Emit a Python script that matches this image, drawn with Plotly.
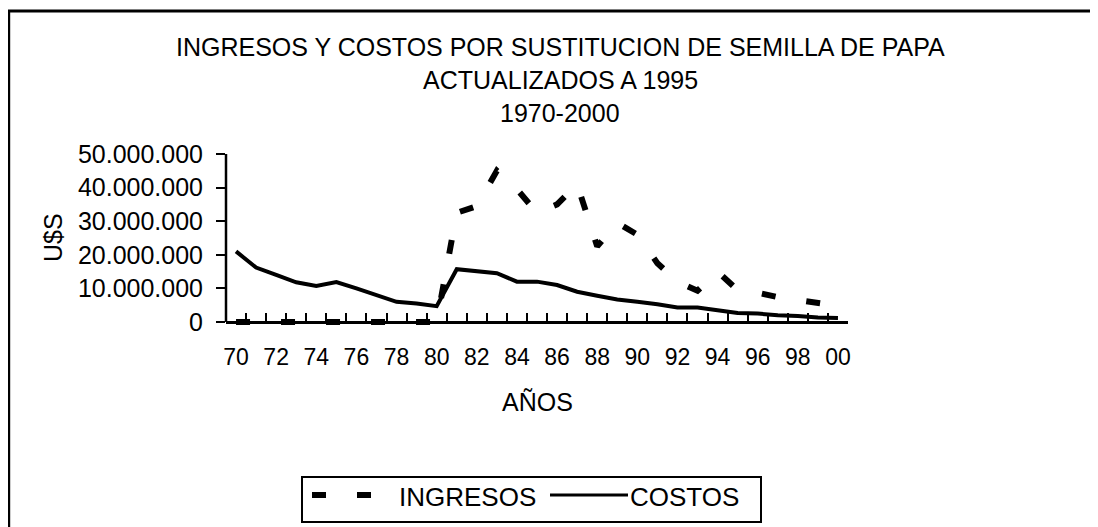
import plotly.graph_objects as go

years = ["70", "71", "72", "73", "74", "75", "76", "77", "78", "79", "80",
         "81", "82", "83", "84", "85", "86", "87", "88", "89", "90",
         "91", "92", "93", "94", "95", "96", "97", "98", "99", "00"]
tick_text = ["70", "", "72", "", "74", "", "76", "", "78", "", "80",
             "", "82", "", "84", "", "86", "", "88", "", "90",
             "", "92", "", "94", "", "96", "", "98", "", "00"]
ingresos = [0, 0, 0, 0, 0, 0, 0, 0, 0, 0, 0,
            32.5e6, 34.5e6, 45e6, 39.5e6, 32.5e6, 35e6, 41e6, 22.5e6, 29.5e6, 26e6,
            17.5e6, 12e6, 9.3e6, 15e6, 9.5e6, 8.7e6, 7.4e6, 6.6e6, 5.4e6, 4.8e6]
costos = [21e6, 16.2e6, 14e6, 11.8e6, 10.7e6, 11.9e6, 10e6, 8e6, 6e6, 5.5e6, 4.7e6,
          15.7e6, 15.2e6, 14.5e6, 12e6, 12e6, 11e6, 9e6, 7.8e6, 6.7e6, 6e6,
          5.3e6, 4.3e6, 4.3e6, 3.5e6, 2.7e6, 2.5e6, 2e6, 1.8e6, 1.3e6, 1.2e6]

W, H = 1098, 527
FONT = "Liberation Sans, Arial, sans-serif"
OFF = 8  # the page body adds an 8px margin; work in screen pixels and subtract it

# plot-area geometry (screen pixels)
X0, X1 = 226, 848          # left / right of category axis
Y_TOP, Y_ZERO = 154, 322   # pixel rows of 50.000.000 and 0
YMAX = 50e6
YMIN = -1.5e6              # small room below zero so thick zero dashes are not clipped
scale = (Y_ZERO - Y_TOP) / YMAX
Y_BOT = Y_ZERO + (-YMIN) * scale


def px(x):
    return (x - X0) / (X1 - X0)


def py(y):
    return (Y_BOT - y) / (Y_BOT - Y_TOP)


fig = go.Figure()
fig.add_trace(go.Scatter(x=years, y=ingresos, mode="lines", name="INGRESOS",
                         line=dict(color="black", width=6, dash="14px,31px"),
                         showlegend=False))
fig.add_trace(go.Scatter(x=years, y=costos, mode="lines", name="COSTOS",
                         line=dict(color="black", width=4),
                         showlegend=False))

fig.update_layout(
    width=W, height=H,
    margin=dict(l=X0 - OFF, r=W - (X1 - OFF), t=Y_TOP - OFF, b=H - (Y_BOT - OFF), pad=0),
    paper_bgcolor="white", plot_bgcolor="white",
    separators=",.",
    font=dict(family=FONT, size=24, color="black"),
)
fig.update_xaxes(
    type="category", range=[-0.5, 30.5], automargin=False,
    anchor="free", position=py(Y_ZERO),
    tickmode="array", tickvals=years, ticktext=tick_text, tickangle=0,
    tickson="boundaries", ticks="inside", ticklen=8, tickwidth=2, tickcolor="black",
    showline=True, linecolor="black", linewidth=2.5, showgrid=False,
    tickfont=dict(size=23), ticklabelstandoff=14,
)
fig.update_yaxes(
    range=[YMIN, YMAX], tickmode="array",
    tickvals=[0, 10e6, 20e6, 30e6, 40e6, 50e6], tickformat=",d", automargin=False,
    ticks="outside", ticklen=9, tickwidth=2, tickcolor="black",
    showline=False, showgrid=False, zeroline=False,
    tickfont=dict(size=25), ticklabelstandoff=8,
)

shapes = []
# y axis line from 0 to top
shapes.append(dict(type="line", xref="paper", yref="y", x0=0, x1=0, y0=0, y1=YMAX,
                   line=dict(color="black", width=2.5)))
# outer chart frame
shapes.append(dict(type="rect", xref="paper", yref="paper",
                   x0=px(8.7), y0=py(560), x1=px(1125), y1=py(11),
                   line=dict(color="black", width=3)))
# legend box
shapes.append(dict(type="rect", xref="paper", yref="paper",
                   x0=px(302), y0=py(522), x1=px(761), y1=py(477),
                   line=dict(color="black", width=2), fillcolor="white", layer="above"))
# legend samples
shapes.append(dict(type="line", xref="paper", yref="paper",
                   x0=px(312), y0=py(495), x1=px(372), y1=py(495),
                   line=dict(color="black", width=6, dash="14px,31px")))
shapes.append(dict(type="line", xref="paper", yref="paper",
                   x0=px(550), y0=py(495), x1=px(628), y1=py(495),
                   line=dict(color="black", width=3)))
fig.update_layout(shapes=shapes)

ann = []
titles = [("INGRESOS Y COSTOS POR SUSTITUCION DE SEMILLA DE PAPA", 47),
          ("ACTUALIZADOS A 1995", 80),
          ("1970-2000", 113)]
for txt, yc in titles:
    ann.append(dict(text=txt, xref="paper", yref="paper", x=px(560), y=py(yc),
                    xanchor="center", yanchor="middle", showarrow=False,
                    font=dict(size=25)))
ann.append(dict(text="AÑOS", xref="paper", yref="paper", x=px(537), y=py(402),
                xanchor="center", yanchor="middle", showarrow=False, font=dict(size=25)))
ann.append(dict(text="U$S", xref="paper", yref="paper", x=px(53), y=py(238),
                xanchor="center", yanchor="middle", showarrow=False, textangle=-90,
                font=dict(size=25)))
ann.append(dict(text="INGRESOS", xref="paper", yref="paper", x=px(397), y=py(497),
                xanchor="left", yanchor="middle", showarrow=False, font=dict(size=26)))
ann.append(dict(text="COSTOS", xref="paper", yref="paper", x=px(628), y=py(497),
                xanchor="left", yanchor="middle", showarrow=False, font=dict(size=26)))
fig.update_layout(annotations=ann)

fig.write_html("out.html")
